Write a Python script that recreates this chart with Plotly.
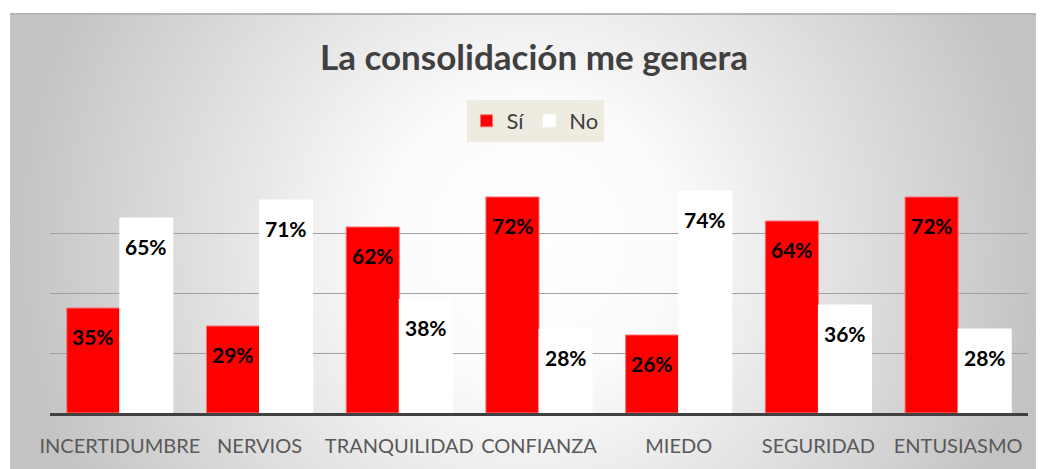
import plotly.graph_objects as go

categories = ["INCERTIDUMBRE", "NERVIOS", "TRANQUILIDAD", "CONFIANZA", "MIEDO", "SEGURIDAD", "ENTUSIASMO"]
si_values = [0.35, 0.29, 0.62, 0.72, 0.26, 0.64, 0.72]
no_values = [0.65, 0.71, 0.38, 0.28, 0.74, 0.36, 0.28]
series_names = ["Sí", "No"]
grid_ticks = [0.2, 0.4, 0.6]

# page body has an 8px margin; figure sized to fit the 1044x469 window
OFF = 8
W, H = 1044 - OFF, 469 - OFF
ML, MT = 10 - OFF, 14 - OFF
PW, PH = W - ML, H - MT

def px_x(p):  # screen px -> paper fraction
    return (p - OFF - ML) / PW

def px_y(p):
    return (H - (p - OFF)) / PH

FONT = "Lato, 'Open Sans', sans-serif"

fig = go.Figure()

# radial-gradient background of the chart area
yr = PH / PW / 2
fig.add_trace(go.Scatter(
    x=[0, 1, 1, 0, 0], y=[0, 0, 1, 1, 0],
    xaxis="x", yaxis="y", mode="lines", line=dict(width=0),
    fill="toself",
    fillgradient=dict(type="radial",
                      colorscale=[[0, "#ffffff"], [0.28, "#fbfbfb"], [1, "#c3c3c3"]]),
    hoverinfo="skip", showlegend=False,
))

fig.add_trace(go.Bar(
    x=categories, y=si_values, name=series_names[0],
    xaxis="x2", yaxis="y2",
    marker=dict(color="#ff0000", line=dict(color="#ff7070", width=1)),
))
fig.add_trace(go.Bar(
    x=categories, y=no_values, name=series_names[1],
    xaxis="x2", yaxis="y2",
    marker=dict(color="#ffffff", line=dict(color="#ffffff", width=1)),
))

annotations = []
for cat, v in zip(categories, si_values):
    annotations.append(dict(x=cat, y=v, xref="x2", yref="y2", text=f"{round(v*100)}%",
                            showarrow=False, xshift=-26.5, yshift=-28,
                            font=dict(family=FONT, size=21, color="#000000", weight="bold")))
for cat, v in zip(categories, no_values):
    annotations.append(dict(x=cat, y=v, xref="x2", yref="y2", text=f"{round(v*100)}%",
                            showarrow=False, xshift=26.5, yshift=-28,
                            font=dict(family=FONT, size=21, color="#000000", weight="bold")))

fig.update_layout(
    width=W, height=H,
    margin=dict(l=ML, r=0, t=MT, b=0, pad=0, autoexpand=False),
    paper_bgcolor="#ffffff",
    plot_bgcolor="rgba(0,0,0,0)",
    barmode="group", bargap=0.24, bargroupgap=0,
    title=dict(text="<b>La consolidación me genera</b>", x=(534 - OFF) / W, xanchor="center",
               y=1 - (58 - OFF) / H, yanchor="middle",
               font=dict(family=FONT, size=35, color="#404040")),
    legend=dict(orientation="h", x=px_x(535), xanchor="center", y=px_y(100), yanchor="top",
                bgcolor="#eeece1", font=dict(family=FONT, size=22, color="#404040"),
                itemwidth=30, traceorder="normal"),
    xaxis=dict(domain=[0, 1], range=[0, 1], visible=False, fixedrange=True),
    yaxis=dict(domain=[0, 1], range=[0.5 - yr, 0.5 + yr], visible=False, fixedrange=True),
    xaxis2=dict(domain=[px_x(50), px_x(1028)], anchor="y2", showline=True, linecolor="#404040",
                linewidth=3, ticks="", ticklabelstandoff=13, showgrid=False,
                tickangle=0, automargin=False,
                tickfont=dict(family=FONT, size=20, color="#595959")),
    yaxis2=dict(domain=[px_y(413), px_y(173)], anchor="x2", range=[0, 0.8],
                tickvals=grid_ticks, showticklabels=False, showgrid=True,
                gridcolor="#a0a0a0", gridwidth=1, zeroline=False, showline=False,
                automargin=False),
    annotations=annotations,
    shapes=[dict(type="line", xref="paper", yref="paper", x0=0, x1=1, y0=1, y1=1,
                 line=dict(color="#b5b5b5", width=2))],
)

fig.write_html("out.html")
